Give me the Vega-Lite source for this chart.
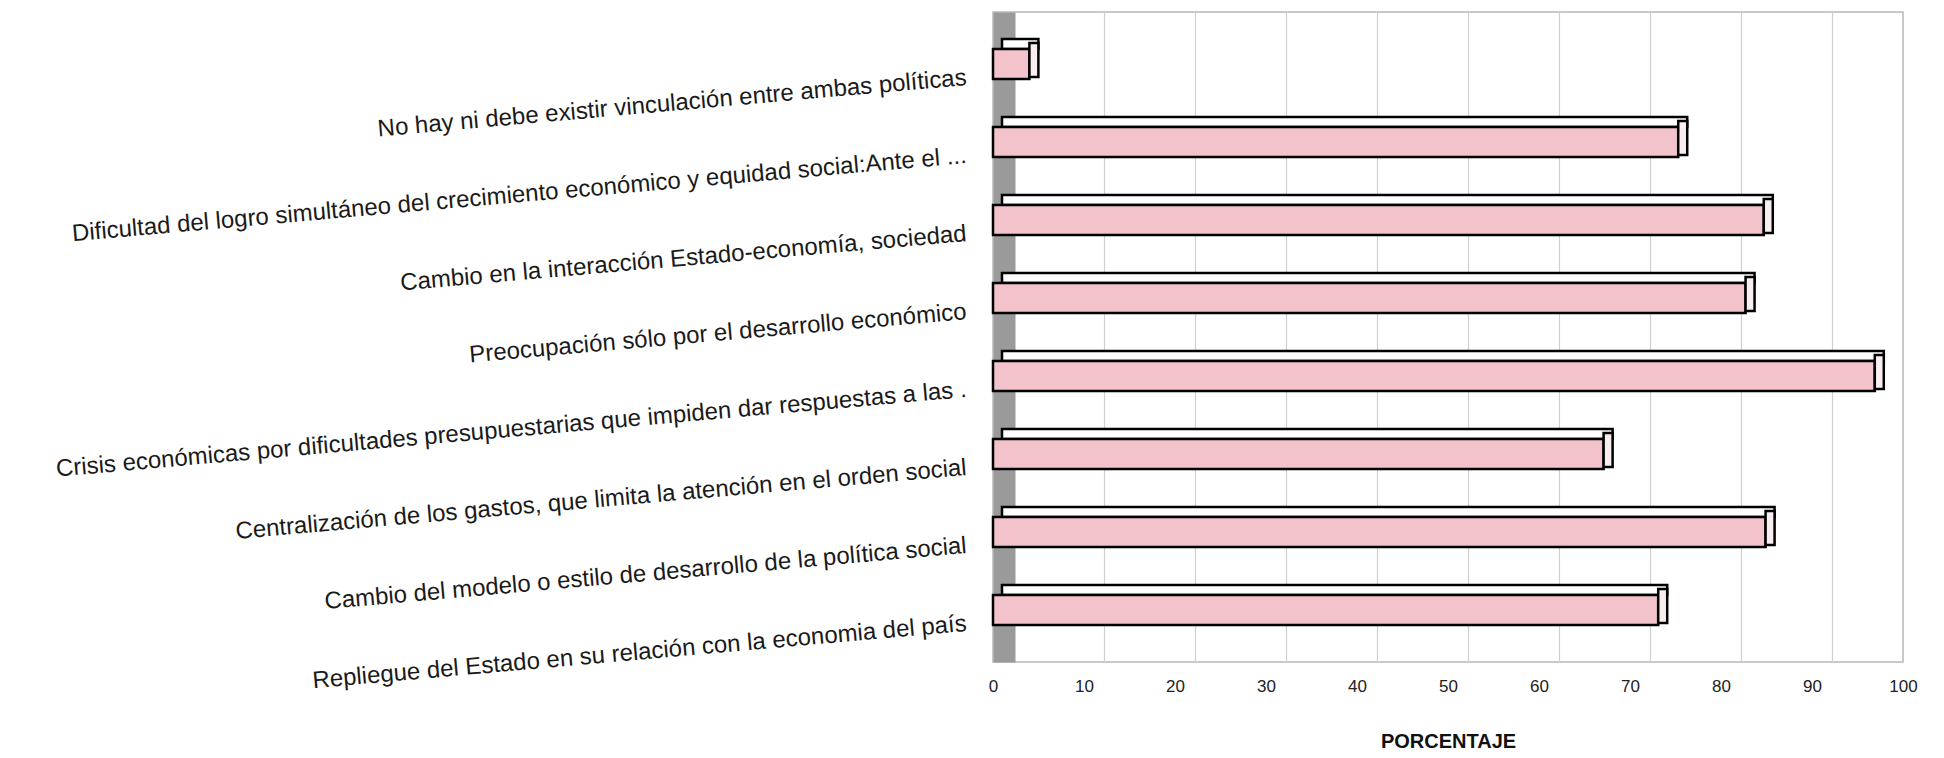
{
  "$schema": "https://vega.github.io/schema/vega-lite/v6.json",
  "autosize": {"type": "none"},
  "padding": {"left": 993, "top": 12, "right": 41, "bottom": 96},
  "width": 910,
  "height": 650,
  "background": "#ffffff",
  "config": {
    "font": "Liberation Sans",
    "view": {"stroke": "#b8b8b8", "strokeWidth": 1.5}
  },
  "data": {
    "values": [
      {"motivo": "No hay ni debe existir vinculación entre ambas políticas", "porcentaje": 4},
      {"motivo": "Dificultad del logro simultáneo del crecimiento económico y equidad social:Ante el ...\u00a0\u00a0\u00a0\u00a0", "porcentaje": 75.3},
      {"motivo": "Cambio en la interacción Estado-economía, sociedad", "porcentaje": 84.7},
      {"motivo": "Preocupación sólo por el desarrollo económico", "porcentaje": 82.7},
      {"motivo": "Crisis económicas por dificultades presupuestarias que impiden dar respuestas a las .\u00a0\u00a0\u00a0", "porcentaje": 96.9},
      {"motivo": "Centralización de los gastos, que limita la atención en el orden social", "porcentaje": 67.1},
      {"motivo": "Cambio del modelo o estilo de desarrollo de la política social", "porcentaje": 84.9},
      {"motivo": "Repliegue del Estado en su relación con la economia del país", "porcentaje": 73.1}
    ]
  },
  "encoding": {
    "y": {
      "field": "motivo",
      "type": "nominal",
      "sort": null,
      "scale": {"paddingInner": 0, "paddingOuter": 0.167},
      "axis": {
        "title": null,
        "offset": -11,
        "domainColor": "#9a9a9a",
        "domainWidth": 22,
        "ticks": false,
        "tickSize": 0,
        "labelPadding": 38,
        "labelOffset": 14,
        "labelAngle": -5,
        "labelAlign": "right",
        "labelBaseline": "middle",
        "labelFontSize": 24,
        "labelColor": "#1a1a1a",
        "labelLimit": 1200,
        "grid": false
      }
    }
  },
  "layer": [
    {
      "description": "back-wall gridlines, set back from the front axis",
      "mark": {"type": "bar", "opacity": 0},
      "encoding": {
        "x": {
          "field": "porcentaje",
          "type": "quantitative",
          "scale": {"domain": [-2.2, 97.8], "nice": false, "zero": false},
          "axis": {
            "orient": "top",
            "values": [10, 20, 30, 40, 50, 60, 70, 80, 90],
            "grid": true,
            "gridColor": "#cfcfcf",
            "gridWidth": 1.2,
            "labels": false,
            "ticks": false,
            "domain": false,
            "title": null
          }
        }
      }
    },
    {
      "layer": [
        {
          "description": "top face of each bar",
          "mark": {
            "type": "bar",
            "height": 10,
            "yOffset": -20,
            "xOffset": 9,
            "x2Offset": 4,
            "fill": "#ffffff",
            "stroke": "#000000",
            "strokeWidth": 2.5
          },
          "encoding": {"x": {"field": "porcentaje", "type": "quantitative"}}
        },
        {
          "description": "front face of each bar",
          "mark": {
            "type": "bar",
            "height": 30,
            "fill": "#f3c3cb",
            "stroke": "#000000",
            "strokeWidth": 2.5
          },
          "encoding": {"x": {"field": "porcentaje", "type": "quantitative"}}
        },
        {
          "description": "end cap of each bar",
          "mark": {
            "type": "bar",
            "height": 34,
            "yOffset": -4,
            "x2Offset": 9,
            "fill": "#f8eef0",
            "stroke": "#000000",
            "strokeWidth": 2.5
          },
          "encoding": {
            "x": {"field": "porcentaje", "type": "quantitative"},
            "x2": {"field": "porcentaje"}
          }
        }
      ],
      "encoding": {
        "x": {
          "field": "porcentaje",
          "type": "quantitative",
          "scale": {"domain": [0, 100], "nice": false},
          "axis": {
            "title": "PORCENTAJE",
            "titleFontSize": 20,
            "titleFontWeight": "bold",
            "titleColor": "#111111",
            "titlePadding": 37,
            "values": [0, 10, 20, 30, 40, 50, 60, 70, 80, 90, 100],
            "labelFontSize": 17,
            "labelColor": "#222222",
            "labelPadding": 16,
            "ticks": false,
            "tickSize": 0,
            "domain": false,
            "grid": false,
            "labelFlush": false
          }
        }
      }
    }
  ],
  "resolve": {"scale": {"x": "independent"}, "axis": {"x": "independent"}}
}
